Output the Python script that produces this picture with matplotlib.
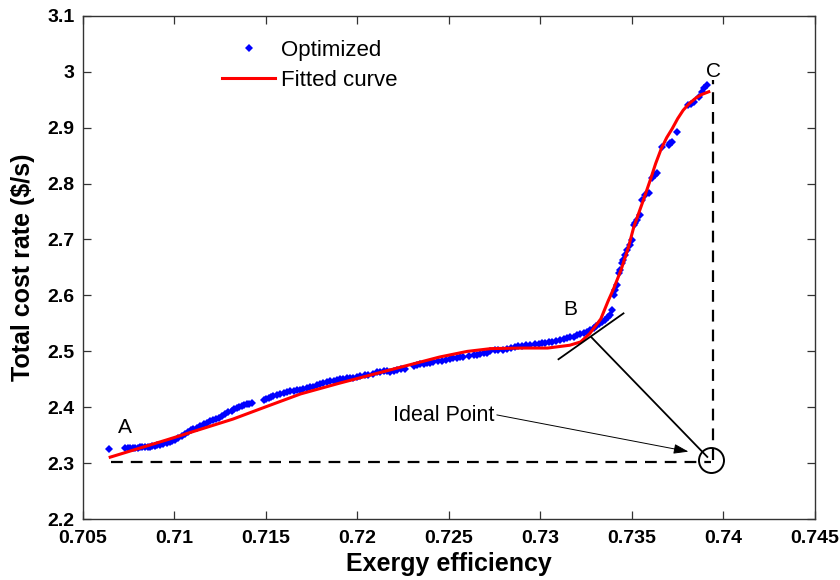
import matplotlib
matplotlib.use("Agg")
import matplotlib.pyplot as plt
from matplotlib.ticker import FixedLocator

plt.rcParams["font.family"] = ["Liberation Sans", "DejaVu Sans"]

# Pareto-optimal solutions: exergy efficiency vs total cost rate
opt_eff = [
    0.70646, 0.70731, 0.70745, 0.70758, 0.70772, 0.70786, 0.70800, 0.70813, 0.70826,
    0.70840, 0.70854, 0.70868, 0.70881, 0.70895, 0.70908, 0.70922, 0.70941, 0.70960,
    0.70977, 0.70990, 0.71005, 0.71023, 0.71041, 0.71060, 0.71077, 0.71090, 0.71105,
    0.71122, 0.71141, 0.71160, 0.71178, 0.71195, 0.71214, 0.71228, 0.71242, 0.71260,
    0.71278, 0.71296, 0.71315, 0.71328, 0.71342, 0.71355, 0.71369, 0.71383, 0.71397,
    0.71410, 0.71424, 0.71488, 0.71500, 0.71515, 0.71528, 0.71542, 0.71560, 0.71579,
    0.71597, 0.71615, 0.71634, 0.71652, 0.71670, 0.71688, 0.71705, 0.71724, 0.71742,
    0.71760, 0.71778, 0.71797, 0.71815, 0.71833, 0.71850, 0.71870, 0.71888, 0.71906,
    0.71924, 0.71942, 0.71960, 0.71979, 0.71997, 0.72015, 0.72040, 0.72061, 0.72085,
    0.72106, 0.72125, 0.72143, 0.72160, 0.72179, 0.72198, 0.72216, 0.72240, 0.72261,
    0.72307, 0.72325, 0.72343, 0.72362, 0.72380, 0.72398, 0.72416, 0.72440, 0.72462,
    0.72485, 0.72507, 0.72525, 0.72544, 0.72562, 0.72580, 0.72610, 0.72635, 0.72653,
    0.72671, 0.72690, 0.72708, 0.72726, 0.72750, 0.72771, 0.72795, 0.72817, 0.72840,
    0.72862, 0.72880, 0.72899, 0.72920, 0.72945, 0.72968, 0.72990, 0.73008, 0.73026,
    0.73045, 0.73063, 0.73085, 0.73109, 0.73127, 0.73145, 0.73163, 0.73181, 0.73200,
    0.73218, 0.73236, 0.73254, 0.73272, 0.73291, 0.73305, 0.73318, 0.73336, 0.73354,
    0.73368, 0.73381, 0.73391, 0.73400, 0.73410, 0.73418, 0.73427, 0.73436, 0.73445,
    0.73454, 0.73463, 0.73473, 0.73487, 0.73500, 0.73509, 0.73518, 0.73527, 0.73545,
    0.73555, 0.73573, 0.73591, 0.73609, 0.73627, 0.73636, 0.73664, 0.73700, 0.73708,
    0.73718, 0.73746, 0.73809, 0.73823, 0.73837, 0.73864, 0.73882, 0.73896, 0.73910,
]
opt_cost = [
    2.3257, 2.3269, 2.3275, 2.3281, 2.3275, 2.3269, 2.3280, 2.3287, 2.3287,
    2.3287, 2.3293, 2.3299, 2.3305, 2.3311, 2.3320, 2.3329, 2.3347, 2.3368,
    2.3388, 2.3403, 2.3418, 2.3448, 2.3490, 2.3530, 2.3567, 2.3590, 2.3609,
    2.3640, 2.3668, 2.3700, 2.3728, 2.3752, 2.3776, 2.3797, 2.3817, 2.3850,
    2.3883, 2.3912, 2.3942, 2.3963, 2.3984, 2.4005, 2.4026, 2.4040, 2.4055,
    2.4064, 2.4073, 2.4133, 2.4150, 2.4169, 2.4186, 2.4204, 2.4222, 2.4240,
    2.4258, 2.4276, 2.4288, 2.4300, 2.4306, 2.4311, 2.4326, 2.4341, 2.4356,
    2.4371, 2.4395, 2.4419, 2.4440, 2.4460, 2.4469, 2.4478, 2.4490, 2.4502,
    2.4511, 2.4520, 2.4520, 2.4520, 2.4544, 2.4568, 2.4573, 2.4579, 2.4603,
    2.4627, 2.4639, 2.4651, 2.4645, 2.4639, 2.4654, 2.4669, 2.4678, 2.4687,
    2.4740, 2.4755, 2.4770, 2.4779, 2.4788, 2.4800, 2.4812, 2.4824, 2.4836,
    2.4853, 2.4871, 2.4880, 2.4889, 2.4898, 2.4907, 2.4922, 2.4937, 2.4943,
    2.4949, 2.4964, 2.4979, 2.5014, 2.5020, 2.5026, 2.5032, 2.5038, 2.5062,
    2.5086, 2.5092, 2.5098, 2.5107, 2.5116, 2.5125, 2.5134, 2.5145, 2.5157,
    2.5166, 2.5175, 2.5190, 2.5205, 2.5220, 2.5235, 2.5250, 2.5265, 2.5288,
    2.5312, 2.5333, 2.5354, 2.5383, 2.5413, 2.5452, 2.5491, 2.5526, 2.5562,
    2.5607, 2.5652, 2.5741, 2.6009, 2.6100, 2.6188, 2.6396, 2.6456, 2.6575,
    2.6635, 2.6720, 2.6813, 2.6900, 2.6992, 2.7260, 2.7300, 2.7349, 2.7439,
    2.7707, 2.7796, 2.7826, 2.8094, 2.8153, 2.8183, 2.8660, 2.8689, 2.8720,
    2.8749, 2.8928, 2.9404, 2.9430, 2.9464, 2.9553, 2.9643, 2.9700, 2.9762,
]

# Fitted curve through the Pareto front
fit_eff = [
    0.7065, 0.7096, 0.7132, 0.7150, 0.7169, 0.7190, 0.7218, 0.7245, 0.7260, 0.7273,
    0.7290, 0.7304, 0.7316, 0.7322, 0.7327, 0.7333, 0.7337, 0.7340, 0.7344, 0.7348,
    0.7351, 0.7356, 0.7360, 0.7363, 0.7366, 0.7369, 0.7372, 0.7375, 0.7378, 0.7381,
    0.7385, 0.7388, 0.7392,
]
fit_cost = [
    2.311, 2.342, 2.379, 2.401, 2.424, 2.443, 2.467, 2.490, 2.500, 2.505,
    2.506, 2.506, 2.511, 2.517, 2.532, 2.558, 2.590, 2.612, 2.645, 2.685,
    2.722, 2.768, 2.806, 2.836, 2.862, 2.882, 2.898, 2.916, 2.931, 2.942,
    2.953, 2.959, 2.964,
]

# Extreme points A, C, the knee B and the ideal point
ideal_eff, ideal_cost = 0.7393, 2.306
a_eff, c_cost = 0.70655, 2.985
tangent_eff = [0.73099, 0.73454]
tangent_cost = [2.486, 2.568]
knee_to_ideal_eff = [0.73278, 0.73912]
knee_to_ideal_cost = [2.5255, 2.3114]

x_ticks = [0.705, 0.71, 0.715, 0.72, 0.725, 0.73, 0.735, 0.74, 0.745]
x_labels = ["0.705", "0.71", "0.715", "0.72", "0.725", "0.73", "0.735", "0.74", "0.745"]
y_ticks = [2.2, 2.3, 2.4, 2.5, 2.6, 2.7, 2.8, 2.9, 3.0, 3.1]
y_labels = ["2.2", "2.3", "2.4", "2.5", "2.6", "2.7", "2.8", "2.9", "3", "3.1"]

fig = plt.figure(figsize=(8.4, 5.8), dpi=100)
ax = fig.add_axes([0.0985, 0.1047, 0.8717, 0.8683])

ax.plot(opt_eff, opt_cost, linestyle="none", marker="D", markersize=3.9,
        color="#0000ff", markeredgewidth=0, label="Optimized", zorder=3)
ax.plot(fit_eff, fit_cost, color="#ff0000", linewidth=2.2, label="Fitted curve", zorder=4)

dash = (0, (5.3, 3.6))
ax.plot([a_eff, ideal_eff], [ideal_cost - 0.004, ideal_cost - 0.004], color="black",
        linewidth=1.6, linestyle=dash, zorder=2)
ax.plot([ideal_eff + 0.00012, ideal_eff + 0.00012], [ideal_cost, c_cost], color="black",
        linewidth=1.6, linestyle=dash, zorder=2)
ax.plot([ideal_eff], [ideal_cost], marker="o", markersize=18, markerfacecolor="none",
        markeredgecolor="black", markeredgewidth=1.4, linestyle="none", zorder=5)

ax.plot(tangent_eff, tangent_cost, color="black", linewidth=1.3, zorder=5)
ax.plot(knee_to_ideal_eff, knee_to_ideal_cost, color="black", linewidth=1.3, zorder=5)

ax.annotate("", xy=(0.73809, 2.3209), xytext=(0.72762, 2.3865),
            arrowprops=dict(arrowstyle="-|>,head_length=0.9,head_width=0.3",
                            color="black", linewidth=0.7, shrinkA=0, shrinkB=0))
ax.text(0.72194, 2.3763, "Ideal Point", fontsize=15.5, ha="left", va="baseline")
ax.text(0.70693, 2.3539, "A", fontsize=15, ha="left", va="baseline")
ax.text(0.73125, 2.5652, "B", fontsize=15, ha="left", va="baseline")
ax.text(0.73906, 2.9905, "C", fontsize=15, ha="left", va="baseline")

ax.set_xlim(0.705, 0.745)
ax.set_ylim(2.2, 3.1)
ax.xaxis.set_major_locator(FixedLocator(x_ticks))
ax.yaxis.set_major_locator(FixedLocator(y_ticks))
ax.set_xticklabels(x_labels, fontsize=14, fontweight="bold")
ax.set_yticklabels(y_labels, fontsize=14, fontweight="bold")
ax.tick_params(direction="in", length=5.5, width=0.9, top=True, right=True,
               color="#333333")
ax.tick_params(axis="x", pad=7.5)
ax.tick_params(axis="y", pad=6)
for s in ax.spines.values():
    s.set_color("#333333")
    s.set_linewidth(1.0)

ax.set_xlabel("Exergy efficiency", fontsize=18, fontweight="bold", labelpad=4)
ax.set_ylabel("Total cost rate ($/s)", fontsize=18, fontweight="bold", labelpad=9)

ax.legend(loc="upper left", bbox_to_anchor=(0.19, 0.952), frameon=False, fontsize=16,
          handlelength=2.4, handletextpad=0.25, labelspacing=0.42, borderpad=0,
          borderaxespad=0, markerscale=1.1, numpoints=1)

fig.savefig("out.png", dpi=100)
